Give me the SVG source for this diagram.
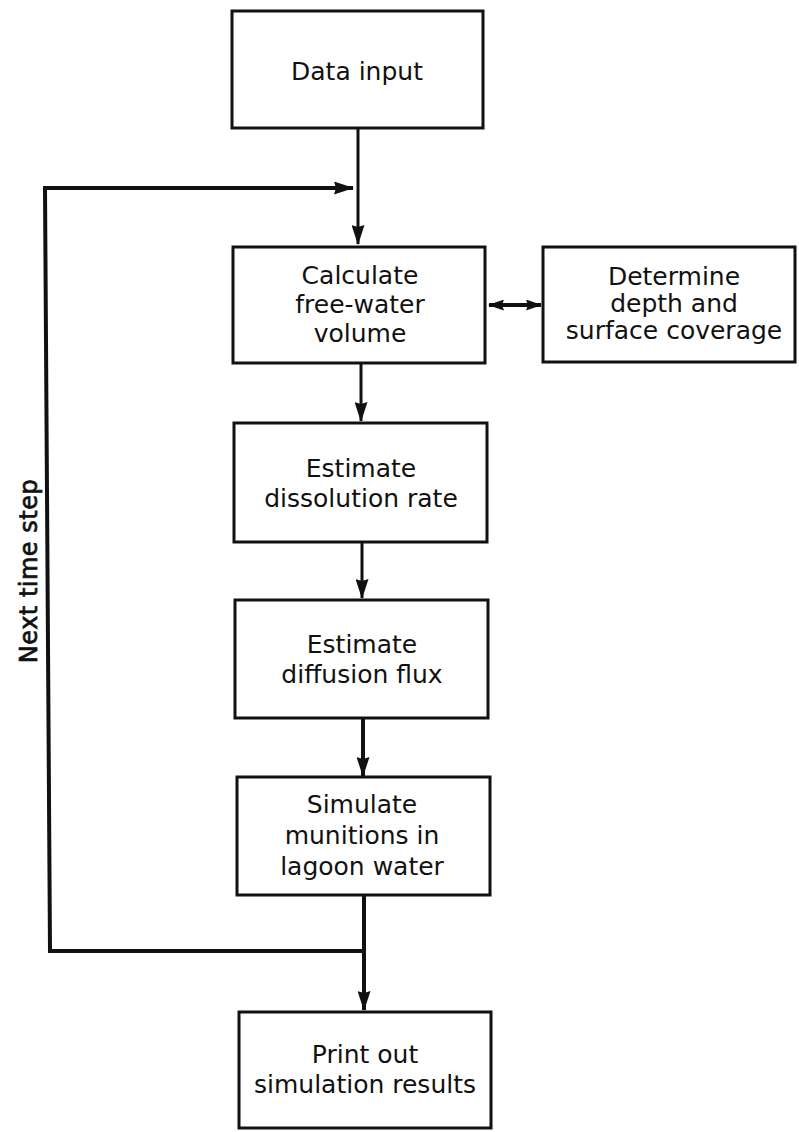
<svg xmlns="http://www.w3.org/2000/svg" width="799" height="1132" viewBox="0 0 799 1132">
<defs>
<style>
.box{fill:#fff;stroke:#111;stroke-width:3}
.t{font-family:"DejaVu Sans","Liberation Sans",sans-serif;font-size:25px;fill:#111;text-anchor:middle}
.c{fill:none;stroke:#111;stroke-linejoin:miter}
.c3{stroke-width:3}
.c4{stroke-width:4}
</style>
<marker id="ah" viewBox="0 0 20 13" refX="19" refY="6.5" markerWidth="20" markerHeight="13" markerUnits="userSpaceOnUse" orient="auto-start-reverse">
<path d="M0,0 L20,6.5 L0,13 L2,6.5 z" fill="#111"/>
</marker>
<marker id="ahs" viewBox="0 0 16 11" refX="15" refY="5.5" markerWidth="16" markerHeight="11" markerUnits="userSpaceOnUse" orient="auto-start-reverse">
<path d="M0,0 L16,5.5 L0,11 L2,5.5 z" fill="#111"/>
</marker>
</defs>
<rect width="799" height="1132" fill="#fff"/>
<g id="connectors">
<line class="c c3" x1="358" y1="128" x2="358" y2="244" marker-end="url(#ah)"/>
<polyline class="c c4" points="364,951 50,951 45,188 353,188" marker-end="url(#ah)"/>
<line class="c c3" x1="361" y1="363" x2="361" y2="421" marker-end="url(#ah)"/>
<line class="c c3" x1="362" y1="542" x2="362" y2="598" marker-end="url(#ah)"/>
<line class="c c4" x1="363" y1="718" x2="363" y2="776" marker-end="url(#ah)"/>
<line class="c c4" x1="364" y1="895" x2="364" y2="1010" marker-end="url(#ah)"/>
<line class="c c4" x1="489" y1="305" x2="541" y2="305" marker-start="url(#ahs)" marker-end="url(#ahs)"/>
<text class="t" transform="translate(37,571) rotate(-90)" style="font-size:24px;letter-spacing:0.5px;stroke:#111;stroke-width:0.7">Next time step</text>
</g>
<g id="n1">
<rect class="box" x="232" y="11" width="251" height="117"/>
<text class="t" x="357" y="80">Data input</text>
</g>
<g id="n2">
<rect class="box" x="233" y="247" width="252" height="116"/>
<text class="t" x="360" y="284">Calculate</text>
<text class="t" x="360" y="313">free-water</text>
<text class="t" x="360" y="342">volume</text>
</g>
<g id="n3">
<rect class="box" x="543" y="247" width="252" height="115"/>
<text class="t" x="674" y="285">Determine</text>
<text class="t" x="674" y="312">depth and</text>
<text class="t" x="674" y="339">surface coverage</text>
</g>
<g id="n4">
<rect class="box" x="234" y="423" width="253" height="119"/>
<text class="t" x="361" y="477">Estimate</text>
<text class="t" x="361" y="507">dissolution rate</text>
</g>
<g id="n5">
<rect class="box" x="235" y="600" width="253" height="118"/>
<text class="t" x="362" y="653">Estimate</text>
<text class="t" x="362" y="683">diffusion flux</text>
</g>
<g id="n6">
<rect class="box" x="237" y="777" width="253" height="118"/>
<text class="t" x="362" y="813">Simulate</text>
<text class="t" x="362" y="844">munitions in</text>
<text class="t" x="362" y="875">lagoon water</text>
</g>
<g id="n7">
<rect class="box" x="239" y="1012" width="252" height="116"/>
<text class="t" x="365" y="1063">Print out</text>
<text class="t" x="365" y="1093">simulation results</text>
</g>
</svg>
